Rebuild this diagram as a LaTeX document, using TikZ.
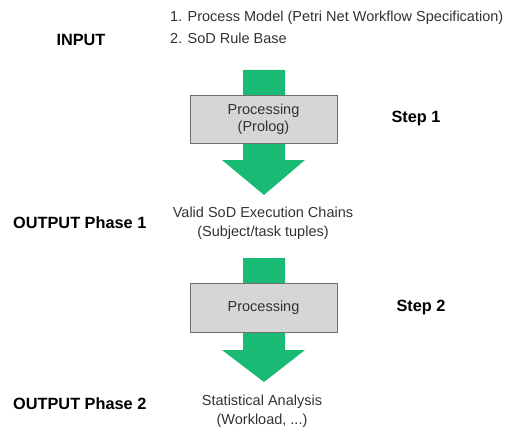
\documentclass[tikz,border=0pt]{standalone}
\usepackage{fontspec}
\setmainfont{Liberation Sans}
\definecolor{flowgreen}{RGB}{24,186,116}
\definecolor{boxgray}{RGB}{214,214,214}
\definecolor{edgegray}{RGB}{110,110,110}
\definecolor{txtgray}{RGB}{50,50,50}
\tikzset{
  lbl/.style={font=\fontsize{16.3}{18}\selectfont\bfseries, text=black, inner sep=0pt},
  txt/.style={font=\fontsize{14.5}{18.5}\selectfont, text=txtgray, inner sep=0pt, align=center},
  procbox/.style={draw=edgegray, line width=1pt, fill=boxgray, minimum width=147pt, minimum height=47pt, inner sep=0pt, align=center, font=\fontsize{14.5}{17}\selectfont, text=txtgray}
}
\begin{document}
\begin{tikzpicture}[x=1pt,y=-1pt]
\useasboundingbox (0,0) rectangle (509,428);
% first green arrow
\fill[flowgreen] (243,70) -- (285,70) -- (285,160) -- (305,160) -- (264,195) -- (222,160) -- (243,160) -- cycle;
\node[procbox] (p1) at (263.5,119.5) {Processing\\(Prolog)};
% second green arrow
\fill[flowgreen] (243,258) -- (285,258) -- (285,350) -- (305,350) -- (264,382) -- (222,350) -- (243,350) -- cycle;
\node[procbox, minimum height=49pt] (p2) at (263.5,307.5) {Processing};
% labels on the left
\node[lbl] (in) at (81,40) {INPUT};
\node[lbl, anchor=west] (o1) at (13,223) {OUTPUT Phase 1};
\node[lbl, anchor=west] (o2) at (13,404) {OUTPUT Phase 2};
% step labels on the right
\node[lbl] (s1) at (416,119) {Step 1};
\node[lbl] (s2) at (421,307) {Step 2};
% inputs and results
\node[txt, anchor=west] (i1) at (170,18) {1. Process Model (Petri Net Workflow Specification)};
\node[txt, anchor=west] (i2) at (170,38) {2. SoD Rule Base};
\node[txt] (r1) at (263,223.5) {Valid SoD Execution Chains\\(Subject/task tuples)};
\node[txt] (r2) at (262,411) {Statistical Analysis\\(Workload, ...)};
\end{tikzpicture}
\end{document}
